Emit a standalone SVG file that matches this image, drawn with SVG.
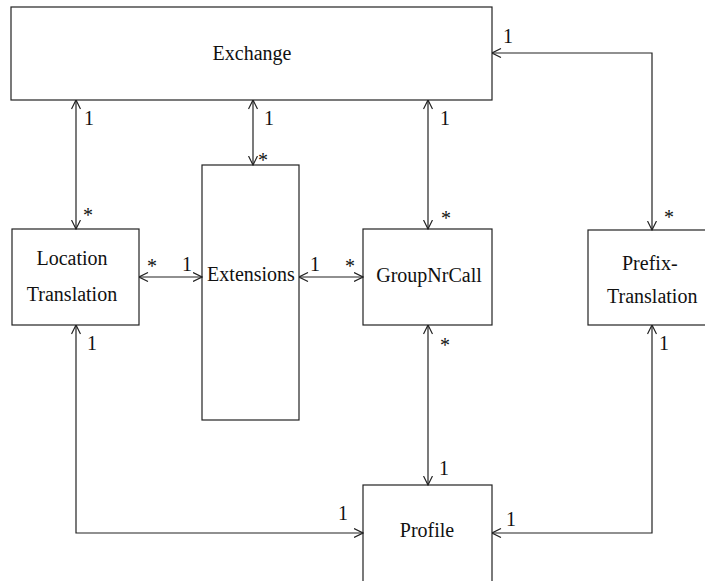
<svg xmlns="http://www.w3.org/2000/svg" width="705" height="581" viewBox="0 0 705 581">
  <style>
    .box { fill: #ffffff; stroke: #222222; stroke-width: 1.2; }
    text { font-size: 20px; fill: #111111; }
    .mid { text-anchor: middle; }
    .con { fill: none; stroke: #222222; stroke-width: 1.2; marker-start: url(#open); marker-end: url(#open); }
  </style>
  <defs>
    <marker id="open" viewBox="0 0 10 10" refX="9.5" refY="5" markerWidth="10" markerHeight="10" markerUnits="userSpaceOnUse" orient="auto-start-reverse">
      <path d="M0.5,0.5 L9.5,5 L0.5,9.5" fill="none" stroke="#222222" stroke-width="1.2"/>
    </marker>
  </defs>
  <rect width="705" height="581" fill="#ffffff"/>

  <g font-family="Liberation Serif, Times New Roman, serif">
  <!-- classes -->
  <g id="exchange">
    <rect class="box" x="11" y="7" width="481" height="93"/>
    <text class="mid" x="252" y="60">Exchange</text>
  </g>
  <g id="location-translation">
    <rect class="box" x="12" y="229" width="127" height="96"/>
    <text class="mid" x="72" y="265">Location</text>
    <text class="mid" x="72" y="301">Translation</text>
  </g>
  <g id="extensions">
    <rect class="box" x="202" y="165" width="97" height="255"/>
    <text class="mid" x="251" y="281">Extensions</text>
  </g>
  <g id="group-nr-call">
    <rect class="box" x="363" y="229" width="129" height="96"/>
    <text class="mid" x="429" y="282">GroupNrCall</text>
  </g>
  <g id="prefix-translation">
    <rect class="box" x="588" y="230" width="130" height="95"/>
    <text x="622" y="270">Prefix-</text>
    <text x="607" y="303">Translation</text>
  </g>
  <g id="profile">
    <rect class="box" x="363" y="485" width="129" height="110"/>
    <text class="mid" x="427" y="537">Profile</text>
  </g>

  <!-- associations -->
  <g id="connectors">
    <path class="con" d="M76,100 V229"/>
    <path class="con" d="M253,100 V165"/>
    <path class="con" d="M428,100 V229"/>
    <path class="con" d="M492,53 H652 V230"/>
    <path class="con" d="M139,277 H202"/>
    <path class="con" d="M299,277 H363"/>
    <path class="con" d="M428,325 V485"/>
    <path class="con" d="M76,325 V533 H363"/>
    <path class="con" d="M652,325 V533 H492"/>
  </g>

  <!-- multiplicities -->
  <g id="multiplicities">
    <text x="503" y="43">1</text>
    <text x="664" y="224">*</text>
    <text x="84" y="125">1</text>
    <text x="83" y="222">*</text>
    <text x="264" y="125">1</text>
    <text x="258" y="167">*</text>
    <text x="440" y="125">1</text>
    <text x="441" y="225">*</text>
    <text x="147" y="273">*</text>
    <text x="182" y="271">1</text>
    <text x="310" y="271">1</text>
    <text x="345" y="273">*</text>
    <text x="87" y="350">1</text>
    <text x="440" y="352">*</text>
    <text x="659" y="350">1</text>
    <text x="439" y="475">1</text>
    <text x="338" y="520">1</text>
    <text x="506" y="526">1</text>
  </g>
  </g>
</svg>
